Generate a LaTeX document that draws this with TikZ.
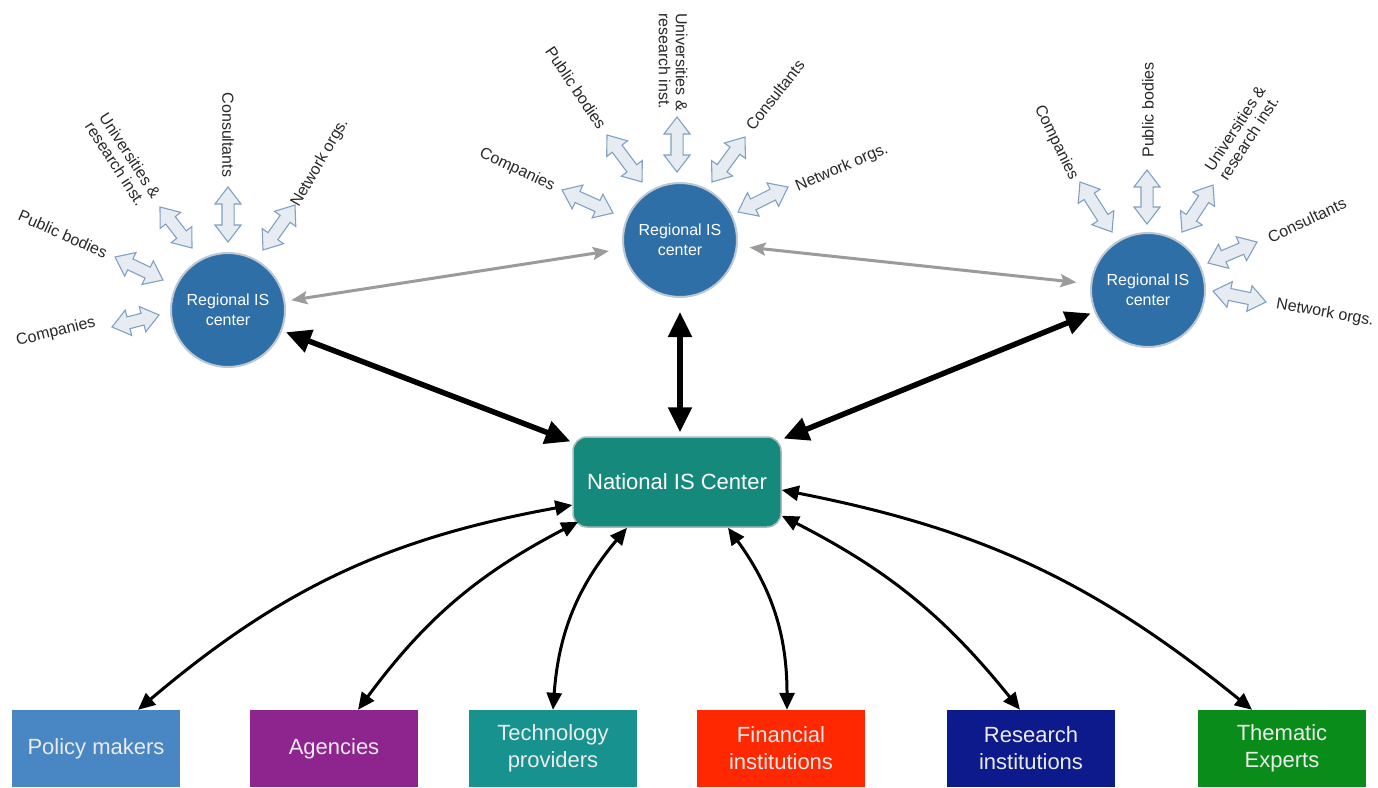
\documentclass[tikz,border=0pt]{standalone}
\usepackage{fontspec}
\setmainfont{Liberation Sans}
\usetikzlibrary{arrows.meta,shapes.arrows,calc}
\definecolor{regfill}{RGB}{46,111,168}
\definecolor{regedge}{RGB}{190,200,210}
\definecolor{natfill}{RGB}{21,138,124}
\definecolor{natedge}{RGB}{170,185,185}
\definecolor{polc}{RGB}{72,134,196}
\definecolor{agec}{RGB}{142,36,142}
\definecolor{tecc}{RGB}{24,146,142}
\definecolor{finc}{RGB}{255,40,0}
\definecolor{resc}{RGB}{12,26,140}
\definecolor{thec}{RGB}{10,140,26}
\definecolor{fatfill}{RGB}{230,236,242}
\definecolor{fatedge}{RGB}{130,160,195}
\definecolor{labc}{RGB}{40,40,40}
\definecolor{grayarr}{RGB}{155,155,155}
\tikzset{
  regnode/.style={circle, fill=regfill, draw=regedge, line width=2pt, minimum size=114pt, inner sep=0pt,
    text=white, align=center, font=\fontsize{16}{20}\selectfont},
  natnode/.style={rectangle, rounded corners=14pt, fill=natfill, draw=natedge, line width=1.5pt,
    minimum width=208pt, minimum height=90pt, text=white, font=\fontsize{22}{26}\selectfont},
  boxnode/.style={rectangle, minimum width=168pt, minimum height=77pt, text=white!92!black, align=center,
    font=\fontsize{22}{27}\selectfont, inner sep=0pt},
  lab/.style={text=labc, font=\fontsize{16}{17}\selectfont, align=left, inner sep=0pt},
  fatarr/.style={double arrow, draw=fatedge, fill=fatfill, line width=1.1pt, inner xsep=0pt, inner ysep=5.5pt,
    double arrow head extend=7pt, double arrow tip angle=75},
  thickarr/.style={line width=5.5pt, >={Triangle[length=25pt,width=23pt]}, <->},
  grayconn/.style={draw=grayarr, line width=3pt, >={Stealth[length=16pt,width=13pt,inset=3pt]}, <->},
  curvarr/.style={line width=3pt, >={Triangle[length=17pt,width=15pt]}, <->}
}
\newcommand\fat[2]{\path let \p1=($(#2)-(#1)$), \n1={atan2(\y1,\x1)}, \n2={veclen(\x1,\y1)} in
  node[fatarr, minimum height=\n2, rotate=\n1] at ($(#1)!0.5!(#2)$) {};}
\begin{document}
\begin{tikzpicture}[x=1pt,y=-1pt]
\useasboundingbox (0,0) rectangle (1378,787);
\fill[white] (0,0) rectangle (1378,787);
% regional centres
\node[regnode] (lreg) at (228,310) {Regional IS\\center};
\node[regnode] (mreg) at (680,240) {Regional IS\\center};
\node[regnode] (rreg) at (1148,290) {Regional IS\\center};
% national
\node[natnode] (nat) at (677,482) {National IS Center};
% bottom boxes
\node[boxnode, fill=polc] (pol) at (96,748.5) {Policy makers};
\node[boxnode, fill=agec] (age) at (334,748.5) {Agencies};
\node[boxnode, fill=tecc] (tec) at (553,748.5) {Technology\\providers};
\node[boxnode, fill=finc] (fin) at (781,748.5) {Financial\\institutions};
\node[boxnode, fill=resc] (res) at (1031,748.5) {Research\\institutions};
\node[boxnode, fill=thec] (the) at (1282,748.5) {Thematic\\Experts};
% labels left cluster
\node[lab, rotate=14] (lcom) at (56,332) {Companies};
\node[lab, rotate=-24] (lpub) at (63,234) {Public bodies};
\node[lab, rotate=-57] (luni) at (123,160) {Universities \&\\research inst.};
\node[lab, rotate=-90] (lcon) at (228,135) {Consultants};
\node[lab, rotate=60] (lnet) at (320,163) {Network orgs.};
% labels middle cluster
\node[lab, rotate=-25] (mcom) at (517,170) {Companies};
\node[lab, rotate=-56] (mpub) at (576,88) {Public bodies};
\node[lab, rotate=-90] (muni) at (673,62) {Universities \&\\research inst.};
\node[lab, rotate=52] (mcon) at (775,95) {Consultants};
\node[lab, rotate=23] (mnet) at (842,168) {Network orgs.};
% labels right cluster
\node[lab, rotate=-64] (rcom) at (1056,143) {Companies};
\node[lab, rotate=90] (rpub) at (1148,110) {Public bodies};
\node[lab, rotate=57] (runi) at (1242,133) {Universities \&\\research inst.};
\node[lab, rotate=25] (rcon) at (1307,220) {Consultants};
\node[lab, rotate=-10] (rnet) at (1325,313) {Network orgs.};
% fat arrow end points
\coordinate (a1) at (112,327); \coordinate (b1) at (159,315);
\coordinate (a2) at (115,257); \coordinate (b2) at (163,280);
\coordinate (a3) at (160,207); \coordinate (b3) at (192,248);
\coordinate (a4) at (228,187); \coordinate (b4) at (228,242);
\coordinate (a5) at (295,205); \coordinate (b5) at (263,250);
\coordinate (c1) at (562,190); \coordinate (d1) at (613,213);
\coordinate (c2) at (607,135); \coordinate (d2) at (642,182);
\coordinate (c3) at (677,117); \coordinate (d3) at (677,172);
\coordinate (c4) at (745,137); \coordinate (d4) at (712,182);
\coordinate (c5) at (788,187); \coordinate (d5) at (738,212);
\coordinate (e1) at (1080,182); \coordinate (f1) at (1112,232);
\coordinate (e2) at (1147,170); \coordinate (f2) at (1147,224);
\coordinate (e3) at (1213,185); \coordinate (f3) at (1182,232);
\coordinate (e4) at (1257,242); \coordinate (f4) at (1208,263);
\coordinate (e5) at (1213,291); \coordinate (f5) at (1266,302);
\fat{a1}{b1}\fat{a2}{b2}\fat{a3}{b3}\fat{a4}{b4}\fat{a5}{b5}
\fat{c1}{d1}\fat{c2}{d2}\fat{c3}{d3}\fat{c4}{d4}\fat{c5}{d5}
\fat{e1}{f1}\fat{e2}{f2}\fat{e3}{f3}\fat{e4}{f4}\fat{e5}{f5}
% gray links between regional centres
\draw[grayconn, shorten <=6pt, shorten >=14pt] (lreg) -- (mreg);
\draw[grayconn, shorten <=12pt, shorten >=14pt] (mreg) -- (rreg);
% thick links
\draw[thickarr, shorten <=4pt, shorten >=2pt] (lreg) -- (nat);
\draw[thickarr, shorten <=14pt, shorten >=4pt] (mreg.south) -- (mreg.south |- nat.north);
\draw[thickarr, shorten <=4pt, shorten >=2pt] (rreg) -- (nat);
% curved links to bottom
\draw[curvarr] ([yshift=-23pt]nat.west) to[bend right=15] ([xshift=42pt]pol.north);
\draw[curvarr] ([xshift=6pt,yshift=6pt]nat.south west) to[bend right=13] ([xshift=24pt]age.north);
\draw[curvarr] ([xshift=-50pt]nat.south) to[bend right=18] (tec.north);
\draw[curvarr] ([xshift=51pt]nat.south) to[bend left=18] ([xshift=6pt]fin.north);
\draw[curvarr] ([yshift=12pt]nat.south east) to[bend left=12] ([xshift=-11pt]res.north);
\draw[curvarr] ([yshift=-8pt]nat.east) to[bend left=14] ([xshift=-30pt]the.north);
\end{tikzpicture}
\end{document}
